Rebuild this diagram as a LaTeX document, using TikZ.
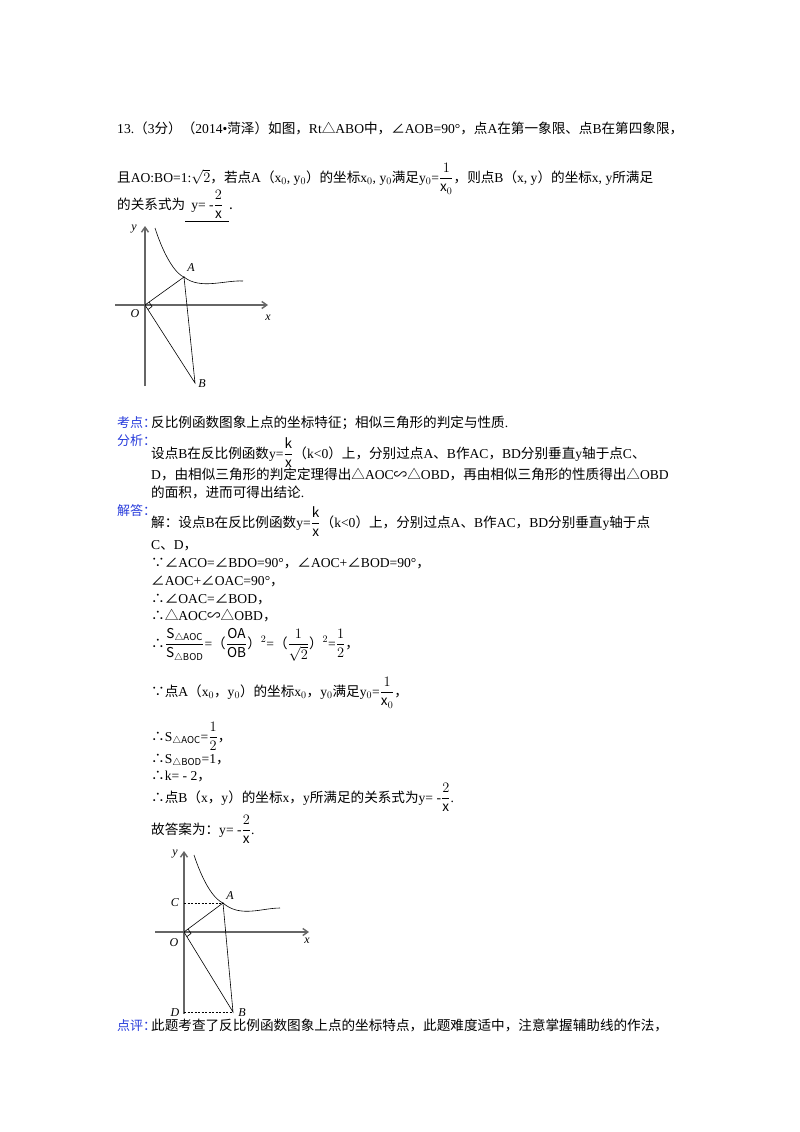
\documentclass[tikz,border=0pt]{standalone}
\usepackage{amsmath}
\usepackage{fontspec}
\setmainfont{Noto Sans CJK SC}
\newfontfamily\lt{Liberation Serif}
\usetikzlibrary{arrows.meta}
\definecolor{lblue}{RGB}{40,60,220}
\tikzset{
 tl/.style={anchor=base west,inner sep=0pt,font=\fontsize{13.6}{15}\selectfont},
 lab/.style={tl,text=lblue,font=\fontsize{13}{15}\selectfont},
 ax/.style={line width=1.4pt,draw=gray!80!black,-{Straight Barb[length=5pt,width=7pt]}},
 ln/.style={line width=0.6pt},
 dl/.style={ln,dashed,dash pattern=on 2pt off 1.5pt},
 pl/.style={inner sep=0pt,font=\lt\itshape\fontsize{12}{12}\selectfont}
}
\begin{document}
\begin{tikzpicture}[x=1pt,y=-1pt]
\useasboundingbox[fill=white] (0,0) rectangle (800,1132);
% text
\node[tl] (t1) at (117,133) {{\lt 13.}（{\lt 3}分）（{\lt 2014•}菏泽）如图，{\lt Rt}△{\lt ABO}中，∠{\lt AOB=90°}，点{\lt A}在第一象限、点{\lt B}在第四象限，};
\node[tl] (t2) at (117,182) {且{\lt AO:BO=1:}$\sqrt{2}$，若点{\lt A}（{\lt x$_0$, y$_0$}）的坐标{\lt x$_0$, y$_0$}满足{\lt y$_0$=}$\dfrac{1}{\mathrm{x}_0}$，则点{\lt B}（{\lt x, y}）的坐标{\lt x, y}所满足};
\node[tl] (t3) at (117,209) {的关系式为\underline{\ \ {\lt y= -}$\dfrac{2}{\mathrm{x}}$\ \ }.};
% graph 1
\coordinate (O1) at (145,305);
\coordinate (A1) at (184,277);
\coordinate (B1) at (195,383);
\draw[ax] (115,305) -- (268,305);
\draw[ax] (145,386) -- (145,226);
\draw[ln] (155,228) .. controls (166,262) and (178,275) .. (A1) .. controls (200,290) and (225,280) .. (243,281);
\draw[ln] (O1) -- (A1) -- (B1) -- (O1);
\draw[ln] (149,302) -- (152,306.5) -- (148,309.5);
\node[pl] (y1) at (134,229) {y};
\node[pl] (x1) at (268,318) {x};
\node[pl] (o1) at (135,314) {O};
\node[pl] (a1) at (191,268) {A};
\node[pl] (b1) at (202,384) {B};
% text 2
\node[lab] (k1) at (117,427) {考点：};
\node[tl] (k2) at (151,427) {反比例函数图象上点的坐标特征；相似三角形的判定与性质{\lt .}};
\node[lab] (f1) at (117,445) {分析：};
\node[tl] (f2) at (151,458) {设点{\lt B}在反比例函数{\lt y=}$\dfrac{\mathrm{k}}{\mathrm{x}}$（{\lt k<0}）上，分别过点{\lt A}、{\lt B}作{\lt AC}，{\lt BD}分别垂直{\lt y}轴于点{\lt C}、};
\node[tl] (f3) at (151,479) {{\lt D}，由相似三角形的判定定理得出△{\lt AOC}∽△{\lt OBD}，再由相似三角形的性质得出△{\lt OBD}};
\node[tl] (f4) at (151,497) {的面积，进而可得出结论{\lt .}};
\node[lab] (j1) at (117,515) {解答：};
\node[tl] (j2) at (151,527) {解：设点{\lt B}在反比例函数{\lt y=}$\dfrac{\mathrm{k}}{\mathrm{x}}$（{\lt k<0}）上，分别过点{\lt A}、{\lt B}作{\lt AC}，{\lt BD}分别垂直{\lt y}轴于点};
\node[tl] (j3) at (151,549) {{\lt C}、{\lt D}，};
\node[tl] (j4) at (151,567) {∵∠{\lt ACO=}∠{\lt BDO=90°}，∠{\lt AOC+}∠{\lt BOD=90°}，};
\node[tl] (j5) at (151,585) {∠{\lt AOC+}∠{\lt OAC=90°}，};
\node[tl] (j6) at (151,603) {∴∠{\lt OAC=}∠{\lt BOD}，};
\node[tl] (j7) at (151,620) {∴△{\lt AOC}∽△{\lt OBD}，};
\node[tl] (j8) at (151,648) {∴$\dfrac{\mathrm{S}_{\triangle\mathrm{AOC}}}{\mathrm{S}_{\triangle\mathrm{BOD}}}${\lt =}（$\dfrac{\mathrm{OA}}{\mathrm{OB}}$）{\lt $^2$=}（$\dfrac{1}{\sqrt2}$）{\lt $^2$=}$\dfrac{1}{2}$，};
\node[tl] (j9) at (151,696) {∵点{\lt A}（{\lt x$_0$}，{\lt y$_0$}）的坐标{\lt x$_0$}，{\lt y$_0$}满足{\lt y$_0$=}$\dfrac{1}{\mathrm{x}_0}$，};
\node[tl] (j10) at (151,741) {∴{\lt S$_{\triangle\mathrm{AOC}}$=}$\dfrac{1}{2}$，};
\node[tl] (j11) at (151,763) {∴{\lt S$_{\triangle\mathrm{BOD}}$=1}，};
\node[tl] (j12) at (151,780) {∴{\lt k= - 2}，};
\node[tl] (j13) at (151,802) {∴点{\lt B}（{\lt x}，{\lt y}）的坐标{\lt x}，{\lt y}所满足的关系式为{\lt y= -}$\dfrac{2}{\mathrm{x}}${\lt .}};
\node[tl] (j14) at (151,834) {故答案为：{\lt y= -}$\dfrac{2}{\mathrm{x}}${\lt .}};
% graph 2
\coordinate (O2) at (184,932);
\coordinate (A2) at (223,903);
\coordinate (B2) at (233,1012);
\coordinate (C2) at (184,903);
\coordinate (D2) at (184,1012);
\draw[ax] (155,932) -- (309,932);
\draw[ax] (184,1014) -- (184,851);
\draw[ln] (194,855) .. controls (205,888) and (216,900) .. (A2) .. controls (240,918) and (262,908) .. (280,908);
\draw[ln] (O2) -- (A2) -- (B2) -- (O2);
\draw[dl] (C2) -- (A2);
\draw[dl] (D2) -- (B2);
\draw[ln] (188,929) -- (191,933.5) -- (187,936.5);
\node[pl] (y2) at (175,854) {y};
\node[pl] (x2) at (307,941) {x};
\node[pl] (o2) at (174,943) {O};
\node[pl] (a2) at (230,896) {A};
\node[pl] (b2) at (242,1013) {B};
\node[pl] (c2) at (175,903) {C};
\node[pl] (d2) at (175,1013) {D};
\node[lab] (p1) at (117,1030) {点评：};
\node[tl] (p2) at (151,1030) {此题考查了反比例函数图象上点的坐标特点，此题难度适中，注意掌握辅助线的作法，};
\end{tikzpicture}
\end{document}
